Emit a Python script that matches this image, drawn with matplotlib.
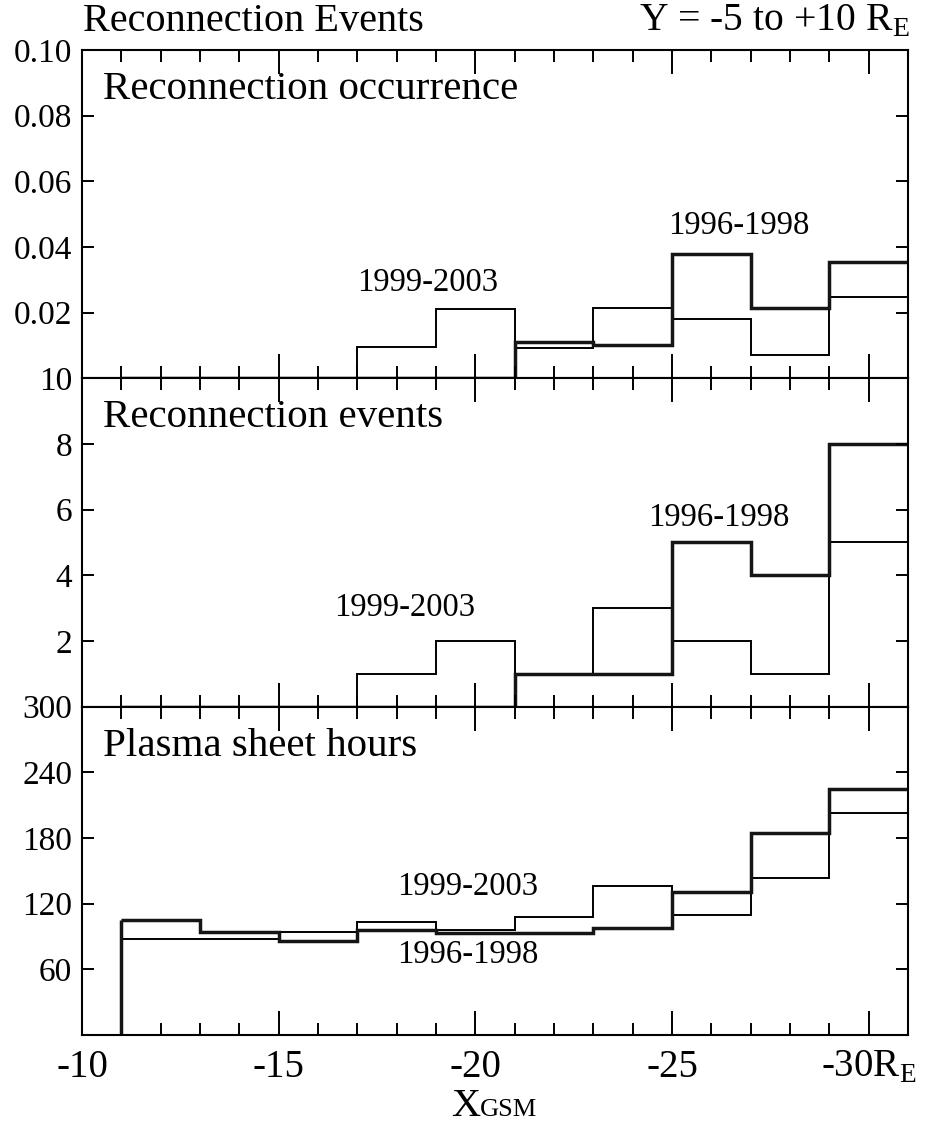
import matplotlib.pyplot as plt
from matplotlib.ticker import MultipleLocator

plt.rcParams['font.family'] = 'Liberation Serif'
plt.rcParams['mathtext.fontset'] = 'custom'
plt.rcParams['mathtext.rm'] = 'Liberation Serif'

# bin edges along X_GSM (R_E), 2 R_E bins from -11 to -31
edges = [-11, -13, -15, -17, -19, -21, -23, -25, -27, -29, -31]

# reconnection occurrence (events / plasma sheet hour)
occ_9698 = [0, 0, 0, 0, 0, 0.011, 0.010, 0.038, 0.0215, 0.0355]
occ_9903 = [0, 0, 0, 0.0095, 0.021, 0.0093, 0.0215, 0.018, 0.007, 0.0248]

# reconnection events
evt_9698 = [0, 0, 0, 0, 0, 1, 1, 5, 4, 8]
evt_9903 = [0, 0, 0, 1, 2, 1, 3, 2, 1, 5]

# plasma sheet hours
hrs_9698 = [105, 94, 86, 96, 93, 93, 98, 131, 185, 225]
hrs_9903 = [88, 88, 94, 103, 96, 108, 136, 110, 143, 203]

panels = [
    ('Reconnection occurrence', occ_9698, occ_9903, 0.10,
     [0.02, 0.04, 0.06, 0.08, 0.10], ['0.02', '0.04', '0.06', '0.08', '0.10'],
     [(-18.8, 0.029), (-26.7, 0.0466)]),
    ('Reconnection events', evt_9698, evt_9903, 10,
     [2, 4, 6, 8, 10], ['2', '4', '6', '8', '10'],
     [(-18.2, 3.0), (-26.2, 5.75)]),
    ('Plasma sheet hours', hrs_9698, hrs_9903, 300,
     [60, 120, 180, 240, 300], ['60', '120', '180', '240', '300'],
     [(-19.8, 135), (-19.8, 73)]),
]

fig, axes = plt.subplots(3, 1, sharex=True, figsize=(9.38, 11.25), dpi=100,
                         gridspec_kw={'hspace': 0})
fig.subplots_adjust(left=0.0874, right=0.968, top=0.9556, bottom=0.08)

for ax, (name, thick, thin, ymax, yt, ytl, lab) in zip(axes, panels):
    # thin = 1999-2003, thick = 1996-1998
    for vals, lw, col in [(thin, 1.4, 'black'), (thick, 2.5, '#151515')]:
        ax.stairs(vals, edges, color=col, lw=lw, baseline=None, clip_on=False)
        if vals[0] > 0:
            ax.vlines(edges[0], 0, vals[0], color=col, lw=lw)
    ax.set_xlim(-10, -31)
    ax.set_ylim(0, ymax)
    ax.set_yticks(yt)
    ax.set_yticklabels(ytl)
    ax.xaxis.set_major_locator(MultipleLocator(5))
    ax.xaxis.set_minor_locator(MultipleLocator(1))
    ax.tick_params(which='both', direction='in', top=True, right=True, width=1.4)
    ax.tick_params(axis='x', which='major', length=17)
    ax.tick_params(axis='x', which='minor', length=8.6)
    ax.tick_params(axis='y', length=8.6, labelsize=24, pad=7)
    for s in ax.spines.values():
        s.set_linewidth(1.5)
    ax.text(0.026, 0.88, name, transform=ax.transAxes, fontsize=29.5, va='center')
    ax.text(lab[0][0], lab[0][1], '1999-2003', fontsize=23.5, ha='center', va='center')
    ax.text(lab[1][0], lab[1][1], '1996-1998', fontsize=23.5, ha='center', va='center')

axes[2].set_xticks([-10, -15, -20, -25, -30])
axes[2].set_xticklabels(['-10', '-15', '-20', '-25', r'-30R$_{\mathrm{E}}$'])
axes[2].tick_params(axis='x', labelsize=28, pad=10)

fig.text(0.0885, 0.981, 'Reconnection Events', fontsize=29, va='center')
fig.text(0.970, 0.981, r'Y = -5 to +10 R$_{\mathrm{E}}$', fontsize=28.5, va='center', ha='right')
fig.text(0.512, 0.008, 'X', fontsize=29, ha='right', va='baseline')
fig.text(0.512, 0.008, 'GSM', fontsize=19, ha='left', va='baseline')

plt.savefig('out.png')
